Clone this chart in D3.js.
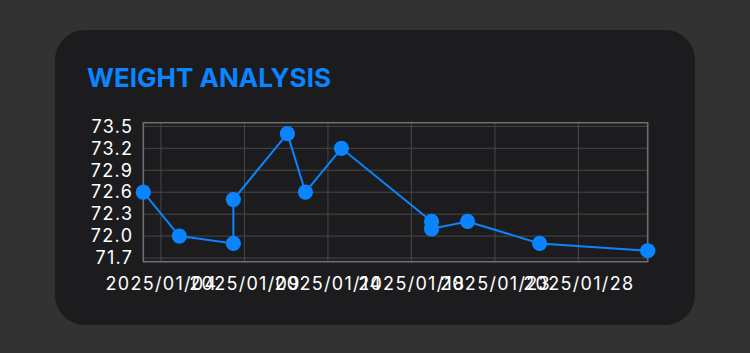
<!DOCTYPE html>
<html>
<head>
<meta charset="utf-8">
<script src="https://cdn.jsdelivr.net/npm/d3@7"></script>
<style>
  html, body { margin: 0; padding: 0; background: #323232; }
  svg { display: block; }
</style>
</head>
<body>
<div id="chart"></div>
<script>
// weigh-in dates and values
var dates = ["2025-01-04", "2025-01-06", "2025-01-09", "2025-01-09", "2025-01-12", "2025-01-13",
             "2025-01-15", "2025-01-20", "2025-01-20", "2025-01-22", "2025-01-26", "2025-02-01"];
var weights = [72.6, 72.0, 71.9, 72.5, 73.4, 72.6, 73.2, 72.2, 72.1, 72.2, 71.9, 71.8];

// axis ticks (x ticks fall at uneven hours, so the labels floor to these days)
var xTicks = ["2025-01-04T23:31", "2025-01-09T14:44", "2025-01-14T06:00",
              "2025-01-18T21:07", "2025-01-23T12:28", "2025-01-28T03:36"];
var yTicks = [71.7, 72.0, 72.3, 72.6, 72.9, 73.2, 73.5];

var svgWidth = 750;
var svgHeight = 353;

var plot = { left: 143.3, right: 647.7, top: 122.7, bottom: 261.7 };

var parseDay = d3.timeParse("%Y-%m-%d");
var parseTick = d3.timeParse("%Y-%m-%dT%H:%M");
var fmt = d3.timeFormat("%Y/%m/%d");

var data = dates.map(function(d, i) {
  return { date: parseDay(d), weight: weights[i] };
});

var svg = d3.select("#chart")
  .append("svg")
  .attr("width", svgWidth)
  .attr("height", svgHeight);

// card
svg.append("rect")
  .attr("x", 55)
  .attr("y", 30)
  .attr("width", 640)
  .attr("height", 295)
  .attr("rx", 30)
  .attr("fill", "#1c1c1e");

svg.append("text")
  .attr("x", 87)
  .attr("y", 86.5)
  .attr("fill", "#0a84ff")
  .attr("font-family", "Inter, 'Liberation Sans', sans-serif")
  .attr("font-weight", 700)
  .attr("font-size", 26)
  .text("WEIGHT ANALYSIS");

// scales
var xScale = d3.scaleTime()
  .domain(d3.extent(data, d => d.date))
  .range([plot.left, plot.right]);

var yScale = d3.scaleLinear()
  .domain([d3.min(weights) - 0.15, d3.max(weights) + 0.15])
  .range([plot.bottom, plot.top]);

var tickDates = xTicks.map(parseTick);

// grid
var grid = svg.append("g")
  .attr("stroke", "#48484a")
  .attr("stroke-width", 1);

grid.selectAll("line.h")
  .data(yTicks)
  .enter()
  .append("line")
  .attr("x1", plot.left)
  .attr("x2", plot.right)
  .attr("y1", d => yScale(d))
  .attr("y2", d => yScale(d));

grid.selectAll("line.v")
  .data(tickDates)
  .enter()
  .append("line")
  .attr("y1", plot.top)
  .attr("y2", plot.bottom)
  .attr("x1", d => xScale(d))
  .attr("x2", d => xScale(d));

svg.append("rect")
  .attr("x", plot.left)
  .attr("y", plot.top)
  .attr("width", plot.right - plot.left)
  .attr("height", plot.bottom - plot.top)
  .attr("fill", "none")
  .attr("stroke", "#6e6e70")
  .attr("stroke-width", 1.6);

// axes
var yAxis = d3.axisLeft(yScale)
  .tickValues(yTicks)
  .tickFormat(d3.format(".1f"))
  .tickSize(0)
  .tickPadding(10);

var xAxis = d3.axisBottom(xScale)
  .tickValues(tickDates)
  .tickFormat(fmt)
  .tickSize(0)
  .tickPadding(16);

var gy = svg.append("g")
  .attr("transform", `translate(${plot.left},0)`)
  .call(yAxis);

var gx = svg.append("g")
  .attr("transform", `translate(0,${plot.bottom})`)
  .call(xAxis);

[gx, gy].forEach(function(g) {
  g.select(".domain").remove();
  g.selectAll("text")
    .attr("fill", "#ffffff")
    .attr("font-family", "Inter, 'Liberation Sans', sans-serif")
    .attr("font-size", 18)
    .attr("letter-spacing", 1.3);
});

// line + points
var line = d3.line()
  .x(d => xScale(d.date))
  .y(d => yScale(d.weight));

svg.append("path")
  .datum(data)
  .attr("fill", "none")
  .attr("stroke", "#0a84ff")
  .attr("stroke-width", 2)
  .attr("d", line);

svg.selectAll("circle.pt")
  .data(data)
  .enter()
  .append("circle")
  .attr("class", "pt")
  .attr("cx", d => xScale(d.date))
  .attr("cy", d => yScale(d.weight))
  .attr("r", 7.6)
  .attr("fill", "#0a84ff");
</script>
</body>
</html>
